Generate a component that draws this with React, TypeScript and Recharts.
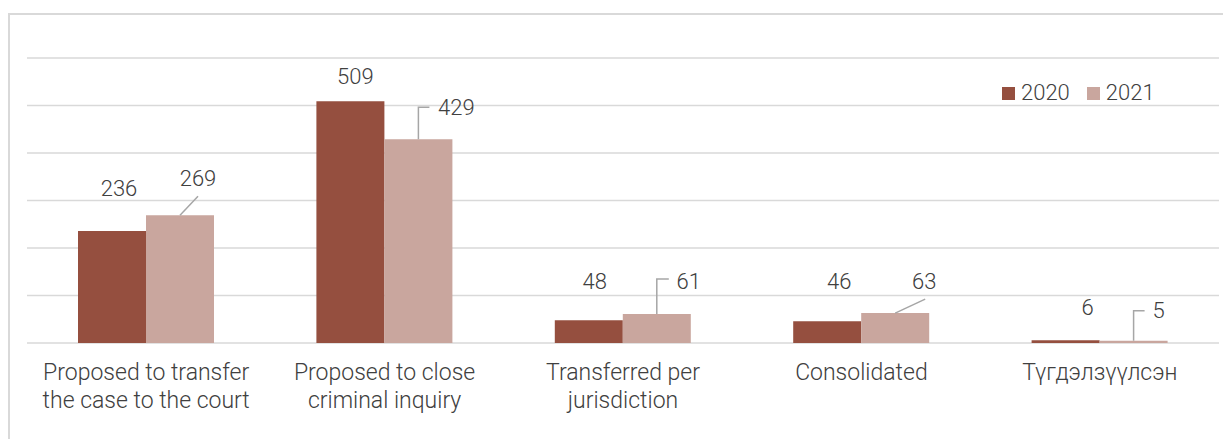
import React from 'react';
import { BarChart, Bar, XAxis, YAxis, CartesianGrid, Legend, LabelList } from 'recharts';

const categories = [
  'Proposed to transfer\nthe case to the court',
  'Proposed to close\ncriminal inquiry',
  'Transferred per\njurisdiction',
  'Consolidated',
  'Түгдэлзүүлсэн',
];
const values2020 = [236, 509, 48, 46, 6];
const values2021 = [269, 429, 61, 63, 5];
const yTicks = [0, 100, 200, 300, 400, 500, 600];

// label placement relative to bar centre / bar top (px)
const labelOffsets2020 = [
  { dx: 7, dy: -43 },
  { dx: 5, dy: -25 },
  { dx: 6, dy: -39 },
  { dx: 12, dy: -40 },
  { dx: 22, dy: -33 },
];
const labelOffsets2021 = [
  { dx: 18, dy: -37, leader: 'diag', lx: 18, ly: -19 },
  { dx: 38, dy: -32, leader: 'elbow', lx: 11, ly: -32 },
  { dx: 32, dy: -33, leader: 'elbow', lx: 12, ly: -35 },
  { dx: 29, dy: -32, leader: 'diag', lx: 30, ly: -14 },
  { dx: 25, dy: -31, leader: 'elbow', lx: 11, ly: -30 },
];

const COLOR_2020 = '#954F3F';
const COLOR_2021 = '#C9A69E';
const TEXT = '#404040';
const GRID = '#D9D9D9';
const FONT = '"Roboto Light", Roboto, "Noto Sans", sans-serif';
const FS = 22;

const data = categories.map((name, i) => ({
  name,
  y2020: values2020[i],
  y2021: values2021[i],
}));

const CategoryTick = (props: any) => {
  const { x, y, payload } = props;
  const lines = String(payload.value).split('\n');
  return (
    <text x={x} y={y} textAnchor="middle" fill={TEXT} fontSize={23} fontWeight={300} fontFamily={FONT}>
      {lines.map((l, i) => (
        <tspan key={i} x={x} dy={i === 0 ? 29 : 28}>{l}</tspan>
      ))}
    </text>
  );
};

const makeLabel = (offsets: any[]) => (props: any) => {
  const { x, y, width, value, index } = props;
  const o = offsets[index];
  const cx = Number(x) + Number(width) / 2;
  const top = Number(y);
  let leader = null;
  if (o.leader === 'diag') {
    leader = <line x1={cx} y1={top} x2={cx + o.lx} y2={top + o.ly} stroke="#A6A6A6" strokeWidth={1.5} />;
  } else if (o.leader === 'elbow') {
    leader = (
      <polyline
        points={`${cx},${top} ${cx},${top + o.ly} ${cx + o.lx},${top + o.ly}`}
        fill="none"
        stroke="#A6A6A6"
        strokeWidth={1.5}
      />
    );
  }
  return (
    <g>
      {leader}
      <text x={cx + o.dx} y={top + o.dy + 8} textAnchor="middle" fill={TEXT} fontSize={FS} fontWeight={300} fontFamily={FONT}>
        {value}
      </text>
    </g>
  );
};

const LegendContent = (props: any) => {
  const { payload } = props;
  return (
    <div style={{ display: 'flex', alignItems: 'center', fontFamily: FONT, fontWeight: 300, fontSize: FS, color: TEXT }}>
      {(payload || []).map((p: any, i: number) => (
        <div key={i} style={{ display: 'flex', alignItems: 'center', marginRight: 17 }}>
          <span style={{ display: 'inline-block', width: 13, height: 13, background: p.color, marginRight: 6 }} />
          <span style={{ lineHeight: '22px' }}>{p.value}</span>
        </div>
      ))}
    </div>
  );
};

export default function App() {
  return (
    <div style={{ padding: '13px 0 0 8px' }}>
      <style>{'body{margin:0;overflow:hidden;}'}</style>
      <div
        style={{
          width: 1215,
          height: 426,
          boxSizing: 'border-box',
          borderLeft: `2px solid ${GRID}`,
          borderTop: `2px solid ${GRID}`,
          position: 'relative',
        }}
      >
        <BarChart
          width={1213}
          height={424}
          data={data}
          margin={{ top: 43, right: 4, left: 17, bottom: 36 }}
          barGap={0}
        >
          <CartesianGrid horizontal vertical={false} stroke={GRID} strokeWidth={1.5} />
          <XAxis dataKey="name" height={60} axisLine={false} tickLine={false} interval={0} tick={<CategoryTick />} />
          <YAxis hide domain={[0, 600]} ticks={yTicks} />
          <Legend
            layout="horizontal"
            verticalAlign="middle"
            align="center"
            content={<LegendContent />}
            wrapperStyle={{ position: 'absolute', left: 992, top: 67, width: 'auto', right: 'auto', bottom: 'auto' }}
          />
          <Bar dataKey="y2020" name="2020" fill={COLOR_2020} barSize={68} isAnimationActive={false}>
            <LabelList dataKey="y2020" content={makeLabel(labelOffsets2020)} />
          </Bar>
          <Bar dataKey="y2021" name="2021" fill={COLOR_2021} barSize={68} isAnimationActive={false}>
            <LabelList dataKey="y2021" content={makeLabel(labelOffsets2021)} />
          </Bar>
        </BarChart>
      </div>
    </div>
  );
}
